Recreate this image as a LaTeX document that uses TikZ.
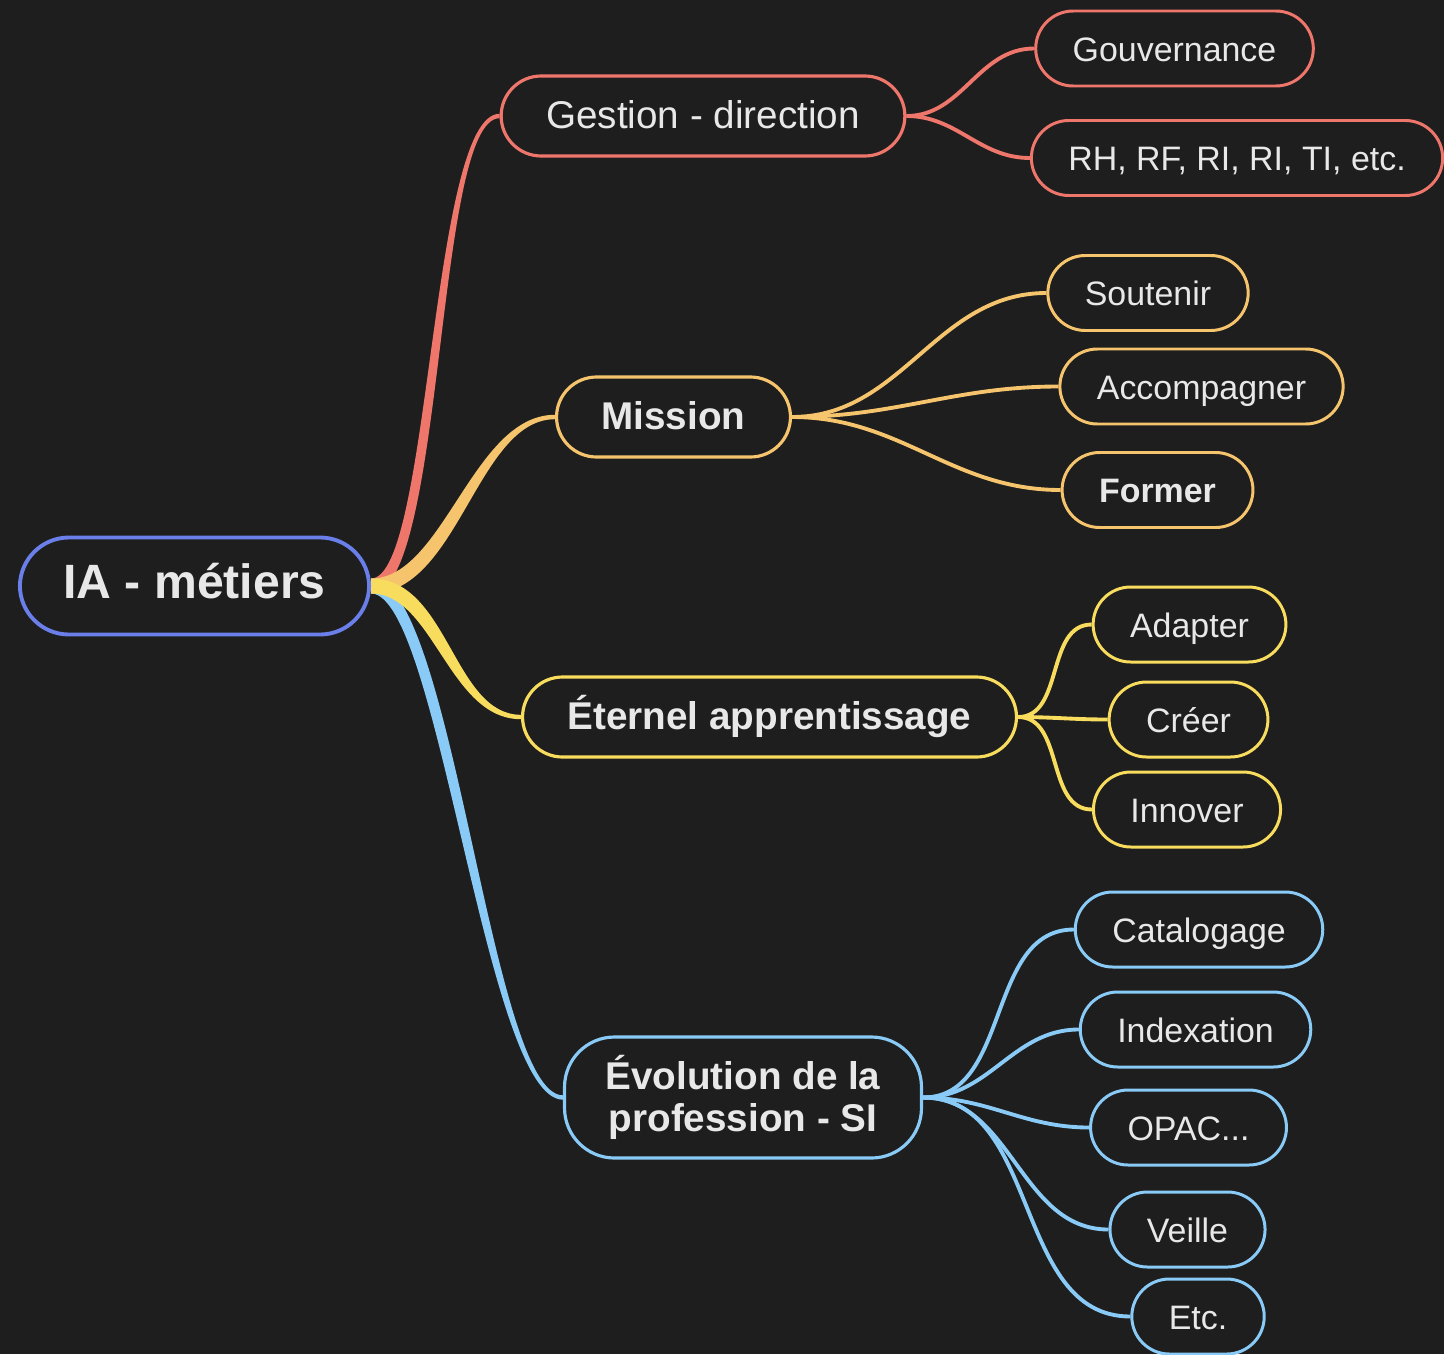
\documentclass[tikz,border=0pt]{standalone}
\usepackage{fontspec}
\setmainfont{Liberation Sans}
\usetikzlibrary{calc, backgrounds}
\definecolor{mapbg}{HTML}{1E1E1E}
\definecolor{maptext}{HTML}{E8E8E8}
\definecolor{mapviolet}{HTML}{6B7FEA}
\definecolor{mapred}{HTML}{EE766B}
\definecolor{maporange}{HTML}{F5C46C}
\definecolor{mapyellow}{HTML}{F8DC5E}
\definecolor{mapblue}{HTML}{89CBF6}
\tikzset{
    root_node/.style={rectangle, rounded corners=0.49cm, minimum height=0.97cm, inner xsep=0.435cm, text height=0.72em, text depth=0pt, text centered, align=center, draw=mapviolet, line width=1.1pt, fill=mapbg, text=maptext, font=\fontsize{13.7}{15}\selectfont\bfseries},
    main_node/.style={rectangle, rounded corners=0.4cm, minimum height=0.8cm, inner xsep=0.45cm, text height=0.72em, text depth=0pt, text centered, align=center, line width=0.9pt, fill=mapbg, text=maptext, font=\fontsize{11}{12}\selectfont},
    main_bold/.style={main_node, font=\fontsize{11}{12}\selectfont\bfseries},
    two_line/.style={main_bold, text height=, text depth=, inner xsep=0.41cm, rounded corners=0.5cm, minimum height=1.21cm},
    sub_node/.style={rectangle, rounded corners=0.375cm, minimum height=0.75cm, inner xsep=0.37cm, text height=0.72em, text depth=0pt, text centered, align=center, line width=0.85pt, fill=mapbg, text=maptext, font=\fontsize{9.65}{11}\selectfont},
    sub_bold/.style={sub_node, font=\fontsize{9.65}{11}\selectfont\bfseries},
    sub_link/.style={line width=1.1pt, out=0, in=180},
}
% tapered branch: colour, from, to, control distance, 1 = up / -1 = down
\newcommand{\taperlink}[5]{%
  \fill[#1] ($(#2)+(0,-0.075)$) .. controls ($(#2)+({#4-(#5)*0.075},-0.075)$) and ($(#3)+({-#4-(#5)*0.022},-0.022)$) .. ($(#3)+(0,-0.022)$)
    -- ($(#3)+(0,0.022)$) .. controls ($(#3)+({-#4+(#5)*0.022},0.022)$) and ($(#2)+({#4+(#5)*0.075},0.075)$) .. ($(#2)+(0,0.075)$) -- cycle;}

\begin{document}
\begin{tikzpicture}[x=1cm, y=-1cm]
      \useasboundingbox (0,0) rectangle (14.44,13.54);

      \node (root) [root_node] at (1.945,5.86) {IA - métiers};

      \node (gestion) [main_node, draw=mapred] at (7.03,1.16) {Gestion - direction};
      \node (mission) [main_bold, draw=maporange] at (6.735,4.17) {Mission};
      \node (eternel) [main_bold, draw=mapyellow] at (7.695,7.17) {Éternel apprentissage};
      \node (evolution) [two_line, draw=mapblue] at (7.43,10.975) {Évolution de la\\profession - SI};

      \node (gouvernance) [sub_node, draw=mapred] at (11.745,0.485) {Gouvernance};
      \node (rh) [sub_node, draw=mapred] at (12.37,1.58) {RH, RF, RI, RI, TI, etc.};

      \node (soutenir) [sub_node, draw=maporange] at (11.48,2.93) {Soutenir};
      \node (accompagner) [sub_node, draw=maporange] at (12.015,3.865) {Accompagner};
      \node (former) [sub_bold, draw=maporange] at (11.575,4.90) {Former};

      \node (adapter) [sub_node, draw=mapyellow] at (11.895,6.245) {Adapter};
      \node (creer) [sub_node, draw=mapyellow] at (11.885,7.195) {Créer};
      \node (innover) [sub_node, draw=mapyellow] at (11.87,8.095) {Innover};

      \node (catalogage) [sub_node, draw=mapblue] at (11.99,9.295) {Catalogage};
      \node (indexation) [sub_node, draw=mapblue] at (11.955,10.295) {Indexation};
      \node (opac) [sub_node, draw=mapblue] at (11.885,11.275) {OPAC...};
      \node (veille) [sub_node, draw=mapblue] at (11.875,12.295) {Veille};
      \node (etc) [sub_node, draw=mapblue] at (11.98,13.165) {Etc.};

      \begin{scope}[on background layer]
      \fill[mapbg] (0,0) rectangle (14.44,13.54);

      \taperlink{mapred}{root.east}{gestion.west}{0.67}{1}
      \taperlink{maporange}{root.east}{mission.west}{0.8}{1}
      \taperlink{mapblue}{root.east}{evolution.west}{0.75}{-1}
      \taperlink{mapyellow}{root.east}{eternel.west}{0.7}{-1}

      \draw [sub_link, mapred] (gestion.east) to (gouvernance.west);
      \draw [sub_link, mapred] (gestion.east) to (rh.west);

      \draw [sub_link, maporange] (mission.east) to (soutenir.west);
      \draw [sub_link, maporange] (mission.east) to (accompagner.west);
      \draw [sub_link, maporange] (mission.east) to (former.west);

      \draw [sub_link, mapyellow] (eternel.east) to (adapter.west);
      \draw [sub_link, mapyellow] (eternel.east) to (creer.west);
      \draw [sub_link, mapyellow] (eternel.east) to (innover.west);

      \draw [sub_link, mapblue] (evolution.east) to (catalogage.west);
      \draw [sub_link, mapblue] (evolution.east) to (indexation.west);
      \draw [sub_link, mapblue] (evolution.east) to (opac.west);
      \draw [sub_link, mapblue] (evolution.east) to (veille.west);
      \draw [sub_link, mapblue] (evolution.east) to (etc.west);
      \end{scope}
\end{tikzpicture}
\end{document}
